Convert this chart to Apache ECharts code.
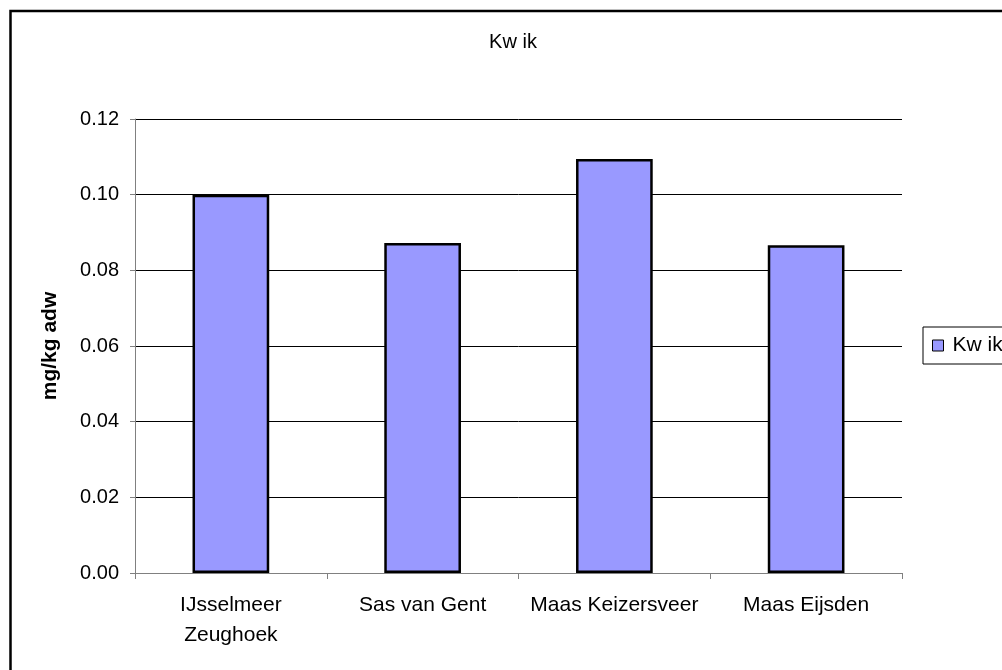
<!DOCTYPE html>
<html>
<head>
<meta charset="utf-8">
<script src="https://cdn.jsdelivr.net/npm/echarts@6/dist/echarts.min.js"></script>
<style>
  html, body { margin: 0; padding: 0; background: #fff; }
  #chart { width: 1002px; height: 670px; }
</style>
</head>
<body>
<div id="chart"></div>
<script>
// Mercury concentration per sampling location
const categories = ['IJsselmeer\nZeughoek', 'Sas van Gent', 'Maas Keizersveer', 'Maas Eijsden'];
const kwikValues = [0.100, 0.0872, 0.1094, 0.0866];
const seriesName = 'Kw ik';
const titleText = 'Kw ik';
const yAxisName = 'mg/kg adw';
const yMin = 0, yMax = 0.12, yStep = 0.02;

const FONT = 'Liberation Sans, Arial, sans-serif';

const chart = echarts.init(document.getElementById('chart'), null, { renderer: 'canvas' });

chart.setOption({
  animation: false,
  backgroundColor: '#fff',
  textStyle: { fontFamily: FONT },
  title: {
    text: titleText,
    left: 508,
    top: 27,
    textAlign: 'center',
    textStyle: { fontFamily: FONT, fontSize: 20, fontWeight: 'normal', color: '#000' }
  },
  grid: { left: 135, right: 100, top: 119, bottom: 97, containLabel: false },
  legend: {
    left: 923,
    top: 327,
    padding: [8, 60, 8, 9],
    borderColor: '#000',
    borderWidth: 1,
    backgroundColor: '#fff',
    itemWidth: 11,
    itemHeight: 11,
    icon: 'rect',
    itemStyle: { borderColor: '#000', borderWidth: 1 },
    textStyle: { fontFamily: FONT, fontSize: 21, color: '#000', padding: [0, 0, 0, 4] },
    data: [seriesName]
  },
  xAxis: {
    type: 'category',
    data: categories,
    boundaryGap: true,
    axisLine: { lineStyle: { color: '#808080', width: 1 } },
    axisTick: { show: true, length: 6, alignWithLabel: false, lineStyle: { color: '#808080' } },
    axisLabel: { color: '#000', fontFamily: FONT, fontSize: 21, margin: 17, lineHeight: 30, interval: 0 },
    splitLine: { show: false }
  },
  yAxis: {
    type: 'value',
    min: yMin,
    max: yMax,
    interval: yStep,
    name: yAxisName,
    nameLocation: 'middle',
    nameGap: 74,
    nameRotate: 90,
    nameTextStyle: { fontFamily: FONT, fontSize: 21, fontWeight: 'bold', color: '#000' },
    axisLine: { show: true, lineStyle: { color: '#808080', width: 1 } },
    axisTick: { show: true, length: 5, lineStyle: { color: '#808080' } },
    axisLabel: {
      color: '#000', fontFamily: FONT, fontSize: 20, margin: 16,
      formatter: v => v.toFixed(2)
    },
    splitLine: { show: true, lineStyle: { color: '#000', width: 1 } }
  },
  series: [{
    name: seriesName,
    type: 'bar',
    data: kwikValues,
    barWidth: '40%',
    itemStyle: { color: '#9999FF', borderColor: '#000', borderWidth: 2.5 }
  }],
  graphic: [{
    type: 'rect',
    shape: { x: 10.5, y: 11, width: 1100, height: 1000 },
    style: { fill: 'none', stroke: '#000', lineWidth: 2.5 },
    silent: true,
    z: 100
  }]
});
</script>
</body>
</html>
